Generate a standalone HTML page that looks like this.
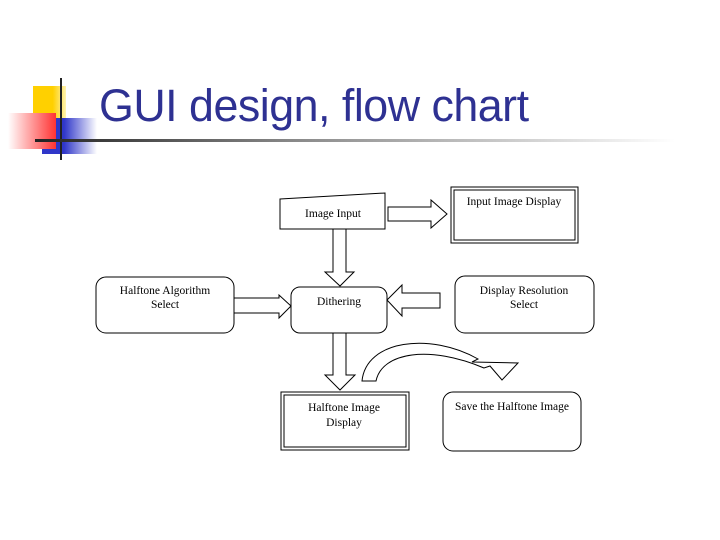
<!DOCTYPE html>
<html><head><style>
body{margin:0;width:720px;height:540px;background:#fff;overflow:hidden;position:relative;font-family:"Liberation Serif",serif}
.t{position:absolute;left:99px;top:80px;font-family:"Liberation Sans",sans-serif;font-size:45px;color:#2e3192;letter-spacing:-0.5px;transform:scaleX(0.995);transform-origin:left}
</style></head><body>
<div style="position:absolute;left:33px;top:86px;width:33px;height:36px;background:linear-gradient(90deg,#ffd000 60%,#fff3b0)"></div>
<div style="position:absolute;left:42px;top:118px;width:55px;height:36px;background:linear-gradient(90deg,#2f36c9 40%,#fff)"></div>
<div style="position:absolute;left:8px;top:113px;width:48px;height:36px;background:linear-gradient(90deg,#fff,#f33)"></div>
<div style="position:absolute;left:60px;top:78px;width:2px;height:82px;background:#222"></div>
<div style="position:absolute;left:35px;top:139px;width:640px;height:3px;background:linear-gradient(90deg,#222,#888 40%,#fff)"></div>
<div class="t">GUI design, flow chart</div>
<svg width="720" height="540" style="position:absolute;left:0;top:0" font-family="Liberation Serif" font-size="11.5" fill="none" stroke="#000" stroke-width="1">
<polygon points="280,199 385,193 385,229 280,229" fill="#fff"/>
<polygon points="388,207 431,207 431,200 447,214 431,228 431,221 388,221" fill="#fff"/>
<rect x="451" y="187" width="127" height="56"/><rect x="454" y="190" width="121" height="50"/>
<polygon points="333,229 346,229 346,272 354,272 340,286 325,272 333,272" fill="#fff"/>
<rect x="291" y="287" width="96" height="46" rx="9" fill="#fff"/>
<polygon points="440,293 402,293 402,285 387,300 402,316 402,308 440,308" fill="#fff"/>
<rect x="455" y="276" width="139" height="57" rx="10"/>
<rect x="96" y="277" width="138" height="56" rx="10"/>
<polygon points="234,298 279,298 279,295 291,306 279,318 279,313 234,313" fill="#fff"/>
<polygon points="333,333 346,333 346,375 355,375 340,390 325,375 333,375" fill="#fff"/>
<rect x="281" y="392" width="128" height="58"/><rect x="284" y="395" width="122" height="52"/>
<path d="M362,381 C366,340 430,332 478,359 L472,362 L518,363 L502,380 L490,366 L484,368 C430,345 382,352 376,381 Z" fill="#fff"/>
<rect x="443" y="392" width="138" height="59" rx="10"/>
<g fill="#000" stroke="none" text-anchor="middle">
<text x="333" y="217">Image Input</text>
<text x="514" y="205">Input Image Display</text>
<text x="339" y="305">Dithering</text>
<text x="524" y="294">Display Resolution</text><text x="524" y="308">Select</text>
<text x="165" y="294">Halftone Algorithm</text><text x="165" y="308">Select</text>
<text x="344" y="411">Halftone Image</text><text x="344" y="426">Display</text>
<text x="512" y="410">Save the Halftone Image</text>
</g></svg>
</body></html>
